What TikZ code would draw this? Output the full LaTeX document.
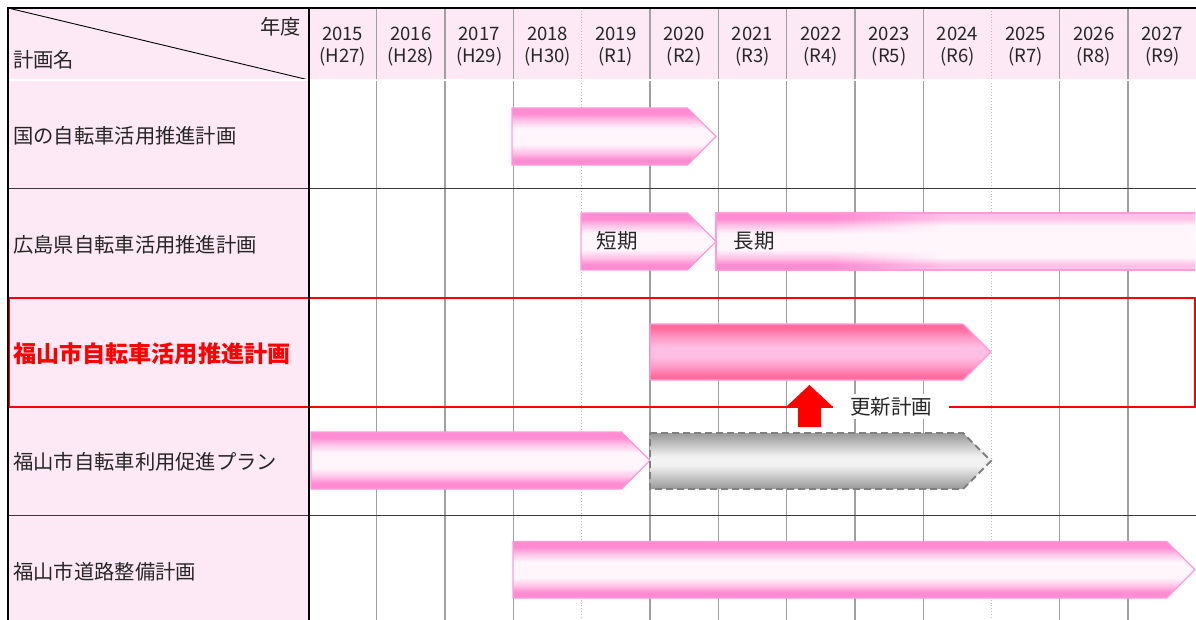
\documentclass[tikz,border=0pt]{standalone}
\usepackage{fontspec}
\setmainfont{Noto Sans CJK JP}
\definecolor{hdr}{HTML}{FDE9F5}
\definecolor{barpink}{HTML}{FF8BD2}
\definecolor{barmid}{HTML}{FFC4E9}
\definecolor{pinkwhite}{HTML}{FFF6FC}
\definecolor{barline}{HTML}{FF9ADB}
\definecolor{rose}{HTML}{FF6C9E}
\definecolor{rosemid}{HTML}{FF9AC6}
\definecolor{rosec}{HTML}{FFBFE4}
\definecolor{grayedge}{HTML}{A0A0A0}
\definecolor{graycen}{HTML}{F2F2F2}
\definecolor{barlight}{HTML}{FFC2E9}
\definecolor{txt}{HTML}{262626}
\definecolor{gridc}{HTML}{A0A0A0}
\definecolor{rowline}{HTML}{3A3A3A}
\colorlet{fadeedge}{barpink}
\colorlet{fademid}{barmid}
\pgfdeclareverticalshading{pinkbar}{100bp}{color(0bp)=(barpink); color(30bp)=(barpink); color(36bp)=(barmid); color(43bp)=(pinkwhite); color(57bp)=(pinkwhite); color(64bp)=(barmid); color(70bp)=(barpink); color(100bp)=(barpink)}
\pgfdeclareverticalshading{rosebar}{100bp}{color(0bp)=(rose); color(29bp)=(rose); color(37bp)=(rosemid); color(46bp)=(rosec); color(54bp)=(rosec); color(63bp)=(rosemid); color(71bp)=(rose); color(100bp)=(rose)}
\pgfdeclareverticalshading{graybar}{100bp}{color(0bp)=(grayedge); color(27bp)=(grayedge); color(46bp)=(graycen); color(54bp)=(graycen); color(73bp)=(grayedge); color(100bp)=(grayedge)}
\pgfdeclareverticalshading[fadeedge,fademid]{fadebar}{100bp}{color(0bp)=(fadeedge); color(30bp)=(fadeedge); color(36bp)=(fademid); color(43bp)=(pinkwhite); color(57bp)=(pinkwhite); color(64bp)=(fademid); color(70bp)=(fadeedge); color(100bp)=(fadeedge)}
\newcommand\arrowpath[4]{(#1,#3) -- ({#2-(#4-#3)/2},#3) -- (#2,{(#3+#4)/2}) -- ({#2-(#4-#3)/2},#4) -- (#1,#4) -- cycle}
\begin{document}
\begin{tikzpicture}[x=1pt,y=-1pt,
  lbl/.style={anchor=west,inner sep=0,text=txt,font=\fontsize{20.3}{24}\selectfont},
  yr/.style={inner sep=0,text=txt,font=\fontsize{18.5}{22}\selectfont},
  gridline/.style={draw=gridc,line width=1.3},
  gridlight/.style={draw=gridc!70,line width=0.9,dotted},
  pinkbarstyle/.style={draw=barline,line width=1.3,shading=pinkbar},
  barlabel/.style={inner sep=0,text=txt,font=\fontsize{20.5}{24}\selectfont}]
\useasboundingbox (0,0) rectangle (1196,620);
\fill[white] (0,0) rectangle (1196,620);
% header and label column fills
\fill[hdr] (8,8) rectangle (1196,80);
\fill[hdr] (8,80) rectangle (309,620);
% vertical grid lines
\foreach \i in {1,...,12}{
  \pgfmathsetmacro\xx{308.5+68.3*\i}
  \ifnum\i=4 \draw[gridlight] (\xx,8) -- (\xx,620);
  \else\ifnum\i=10 \draw[gridlight] (\xx,8) -- (\xx,620);
  \else \draw[gridline] (\xx,8) -- (\xx,620); \fi\fi
}
% years
\foreach \y/\e [count=\i from 0] in {2015/H27,2016/H28,2017/H29,2018/H30,2019/R1,2020/R2,2021/R3,2022/R4,2023/R5,2024/R6,2025/R7,2026/R8,2027/R9}{
  \pgfmathsetmacro\xx{308.5+68.3*(\i+0.5)}
  \node[yr] (y\y) at (\xx,34) {\y};
  \node[yr] (e\y) at (\xx,57) {(\e)};
}
% header diagonal and texts
\draw[black,line width=0.9] (8,8) -- (309,80);
\node[lbl,anchor=east] (nendo) at (301,27) {年度};
\node[lbl] (keikaku) at (13,60) {計画名};
% row lines
\foreach \yy in {188.5,297.5,406.5,515.5}
  \draw[rowline,line width=1.3] (8,\yy) -- (1196,\yy);
\draw[black,line width=0.8,double,double distance=1.2] (8,80) -- (1196,80);
% row labels
\node[lbl] (p1) at (13,136) {国の自転車活用推進計画};
\node[lbl] (p2) at (13,245) {広島県自転車活用推進計画};
\node[lbl,text=red,font=\fontsize{23.1}{26}\selectfont\bfseries] (p3) at (13,354) {福山市自転車活用推進計画};
\node[lbl] (p4) at (13,462) {福山市自転車利用促進プラン};
\node[lbl] (p5) at (13,572) {福山市道路整備計画};
% bars
\draw[pinkbarstyle] \arrowpath{512}{716}{108}{165};
\draw[pinkbarstyle] \arrowpath{581}{716}{213}{270};
% long-term faded bar
\shade[shading=pinkbar] (716,213) rectangle (830,270);
\foreach \k in {0,...,23}{
  \pgfmathsetmacro\pp{100-100*\k/23}
  \colorlet{fadeedge}{barpink!\pp!barlight}
  \colorlet{fademid}{barmid!\pp!pinkwhite}
  \shade[shading=fadebar] ({830+5*\k},213) rectangle ({835.6+5*\k},270);
}
\colorlet{fadeedge}{barlight}
\colorlet{fademid}{pinkwhite}
\shade[shading=fadebar] (949,213) rectangle (1195,270);
\draw[barline,line width=1.3] (1195,213) -- (716,213) -- (716,270) -- (1195,270);
\draw[pinkbarstyle,shading=rosebar] \arrowpath{650}{991}{324}{380};
\draw[pinkbarstyle] \arrowpath{311}{650}{432}{489};
\draw[draw=gray,line width=1.8,dash pattern=on 7pt off 4pt,shading=graybar] \arrowpath{650}{991}{433}{489};
\draw[pinkbarstyle] \arrowpath{513}{1195}{541.5}{598};
\node[barlabel] (tanki) at (617,241) {短期};
\node[barlabel] (choki) at (754,241) {長期};
% red frame
\draw[red,line width=2] (9,297.5) rectangle (1195,406.5);
\node[fill=white,inner xsep=17,inner ysep=3,text=txt,font=\fontsize{20.5}{24}\selectfont] (koshin) at (891,406.5) {更新計画};
\fill[red] (809.5,385) -- (832,406) -- (821,406) -- (821,427) -- (798,427) -- (798,406) -- (787,406) -- cycle;
% outer borders
\draw[black,line width=2.6] (8,620) -- (8,8) -- (1196,8);
\draw[black,line width=2.6] (309,8) -- (309,620);
\end{tikzpicture}
\end{document}
